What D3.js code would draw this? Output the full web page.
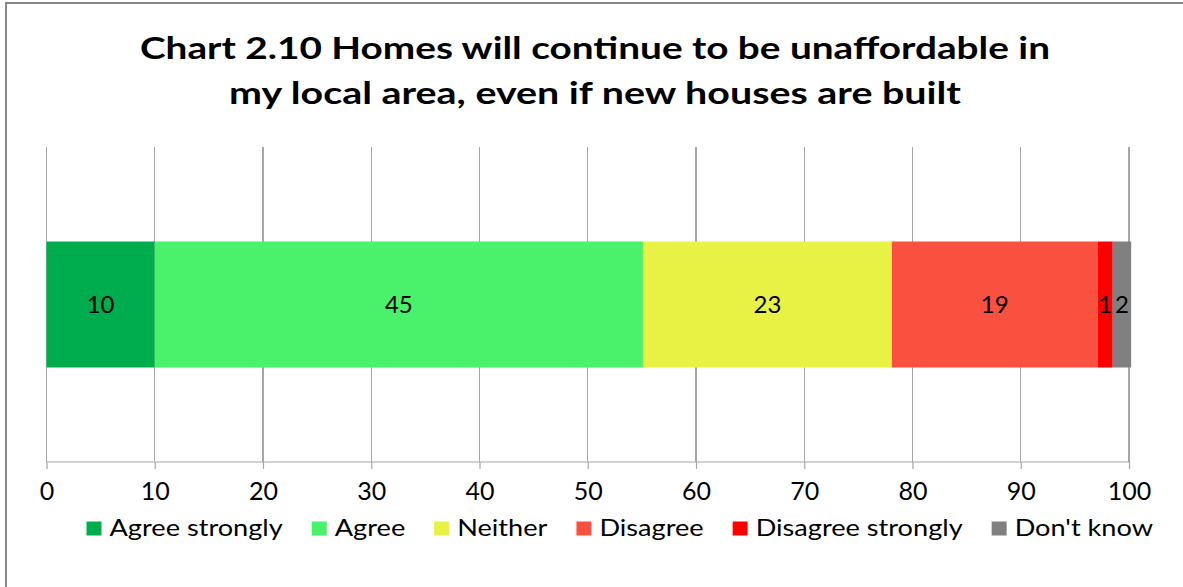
<!DOCTYPE html>
<html><head><meta charset="utf-8">
<script src="https://cdn.jsdelivr.net/npm/d3@7"></script>
<style>html,body{margin:0;padding:0;background:#fff;overflow:hidden}svg{display:block}</style>
</head><body>
<svg id="c" width="1183" height="587"></svg>
<script>
const titleLines = ["Chart 2.10 Homes will continue to be unaffordable in", "my local area, even if new houses are built"];
const categories = ["Homes will continue to be unaffordable"];
const seriesNames = ["Agree strongly", "Agree", "Neither", "Disagree", "Disagree strongly", "Don't know"];
const seriesValues = [10.0, 45.1, 23.0, 19.0, 1.4, 1.7];
const seriesColors = ["#00AD4E", "#4AF26B", "#E7F244", "#F9503F", "#FF0000", "#808080"];
const tickValues = [0, 10, 20, 30, 40, 50, 60, 70, 80, 90, 100];

const svg = d3.select("#c");
const FONT = "Lato, 'Open Sans', sans-serif";

// outer chart border
svg.append("rect").attr("x", 6).attr("y", 3).attr("width", 1200).attr("height", 620)
  .attr("fill", "#fff").attr("stroke", "#878787").attr("stroke-width", 2);

const plot = {left: 46.5, right: 1129, top: 147, bottom: 462};
const x = d3.scaleLinear().domain([0, 100]).range([plot.left, plot.right]);
const y = d3.scaleBand().domain(categories).range([plot.top, plot.bottom]).paddingInner(0.6).paddingOuter(0.3);

// gridlines
svg.append("g").selectAll("line").data(tickValues).join("line")
  .attr("x1", d => x(d)).attr("x2", d => x(d))
  .attr("y1", plot.top).attr("y2", plot.bottom)
  .attr("stroke", "#a6a6a6").attr("stroke-width", 1.2).attr("shape-rendering", "crispEdges");

// stacked bar
let acc = 0;
const segs = seriesValues.map((v, i) => { const s = {name: seriesNames[i], v, x0: acc, x1: acc + v, color: seriesColors[i]}; acc += v; return s; });
const cat = categories[0];
svg.append("g").selectAll("rect").data(segs).join("rect")
  .attr("x", d => x(d.x0)).attr("width", d => x(d.x1) - x(d.x0))
  .attr("y", y(cat)).attr("height", y.bandwidth())
  .attr("fill", d => d.color);

svg.append("g").selectAll("text").data(segs).join("text")
  .attr("x", d => (x(d.x0) + x(d.x1)) / 2)
  .attr("y", y(cat) + y.bandwidth() / 2)
  .attr("dy", "0.36em")
  .attr("text-anchor", "middle")
  .attr("font-family", FONT).attr("font-size", 24).attr("fill", "#000")
  .text(d => d3.format(".0f")(d.v));

// axis
const axis = d3.axisBottom(x).tickValues(tickValues).tickSize(7).tickPadding(14).tickFormat(d3.format("d"));
const ag = svg.append("g").attr("transform", `translate(0,${plot.bottom})`).call(axis);
ag.select(".domain").attr("stroke", "#a6a6a6").attr("stroke-width", 1.2).attr("d", `M${plot.left},0H${plot.right}`);
ag.selectAll(".tick line").attr("stroke", "#a6a6a6").attr("stroke-width", 1.2);
ag.selectAll(".tick text").attr("font-family", FONT).attr("font-size", 25).attr("fill", "#000").attr("dy", "0.68em");

// title
const tg = svg.append("g");
const titleW = [910, 732];
titleLines.forEach((t, i) => {
  const el = tg.append("text").attr("x", 595).attr("y", 59 + i * 45)
    .attr("text-anchor", "middle").attr("font-family", FONT).attr("font-weight", "bold")
    .attr("font-size", 30).attr("fill", "#000").text(t);
  el.attr("textLength", titleW[i]).attr("lengthAdjust", "spacingAndGlyphs");
});

// legend
const lg = svg.append("g");
let lx = 86.5;
const legFont = 23;
const items = seriesNames.map((n, i) => ({n, c: seriesColors[i]}));
const meas = items.map(it => {
  const t = lg.append("text").attr("font-family", FONT).attr("font-size", legFont).text(it.n);
  const w = t.node().getComputedTextLength(); t.remove(); return w;
});
const targetTotal = 1153 - 86.5;
const fixed = items.length * (15 + 8) + (items.length - 1) * 29;
const k = (targetTotal - fixed) / d3.sum(meas);
items.forEach((it, i) => {
  lg.append("rect").attr("x", lx).attr("y", 521.5).attr("width", 15).attr("height", 14).attr("fill", it.c);
  const tw = meas[i] * k;
  lg.append("text").attr("x", lx + 23).attr("y", 536).attr("font-family", FONT).attr("font-size", legFont)
    .attr("fill", "#000").attr("textLength", tw).attr("lengthAdjust", "spacingAndGlyphs").text(it.n);
  lx += 23 + tw + 29;
});
</script>
</body></html>
